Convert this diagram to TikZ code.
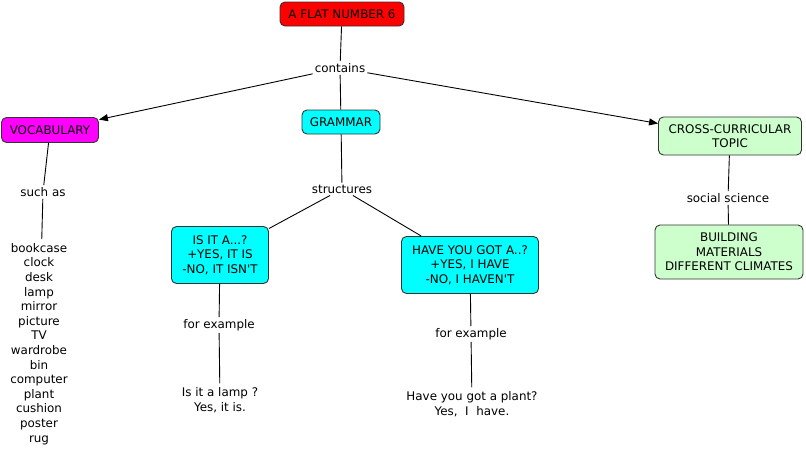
\documentclass[tikz,border=0pt]{standalone}
\usepackage{fontspec}
\setmainfont{DejaVu Sans}
\usepackage{tikz}
\usetikzlibrary{positioning, arrows.meta, shapes}
\definecolor{conceptred}{HTML}{FF0000}
\definecolor{conceptmagenta}{HTML}{FF00FF}
\definecolor{conceptcyan}{HTML}{00FFFF}
\definecolor{conceptgreen}{HTML}{CCFFCC}
\definecolor{borderdark}{HTML}{333333}
\tikzstyle{concept} = [rectangle, rounded corners=5pt, line width=0.9pt, 
text centered, draw=borderdark, inner sep=2pt, align=center]
\tikzstyle{linklabel} = [rectangle, fill=white, inner sep=2pt, 
text centered, align=center]
\tikzstyle{example} = [rectangle, inner sep=4pt, 
text centered, align=center]
\tikzstyle{link} = [line width=0.9pt, draw=black]
\tikzstyle{arrow} = [line width=0.9pt, -{Triangle[length=9pt, width=7pt]}]

\begin{document}
\begin{tikzpicture}[x=1pt, y=-1pt,
    every node/.style={font=\fontsize{11.9}{14.6}\selectfont}]
\useasboundingbox (0,0) rectangle (806,455);

\node (flat) [concept, fill=conceptred, minimum width=124pt, 
minimum height=24pt] at (342,14) {A FLAT NUMBER 6};

\node (contains) [linklabel] at (340,68) {contains};

\node (vocab) [concept, fill=conceptmagenta, minimum width=97pt, 
minimum height=25pt] at (50,130) {VOCABULARY};

\node (grammar) [concept, fill=conceptcyan, minimum width=78pt, 
minimum height=24pt] at (341,122) {GRAMMAR};

\node (cross) [concept, fill=conceptgreen, minimum width=143pt, 
minimum height=38pt] at (730,136) {CROSS-CURRICULAR \\ TOPIC};

%--------------------------------------------------
%-------vocabulary-------------------
\node (suchas) [linklabel] at (43,192) {such as};

\node (words) [example] at (39,344) 
{bookcase \\ clock \\ desk \\ lamp \\ mirror \\ picture \\ TV \\ 
wardrobe \\ bin \\ computer \\ plant \\ cushion \\ poster \\ rug};

%--------------------------------------------------
%-------grammar-------------------
\node (structures) [linklabel] at (342,189) {structures};

\node (isit) [concept, fill=conceptcyan, minimum width=97pt, 
minimum height=57pt] at (220,255) 
{IS IT A...? \\ +YES, IT IS \\ -NO, IT ISN\textquotesingle T};

\node (haveyou) [concept, fill=conceptcyan, minimum width=137pt, 
minimum height=57pt] at (470,265) 
{HAVE YOU GOT A..? \\ +YES, I HAVE \\ -NO, I HAVEN\textquotesingle T};

\node (forex1) [linklabel] at (219,325) {for example};

\node (forex2) [linklabel] at (471,334) {for example};

\node (lamp) [example] at (220,400) {Is it a lamp ? \\ Yes, it is.};

\node (plant) [example] at (472,404) 
{Have you got a plant? \\ Yes,\ \ I\ \ have.};

%--------------------------------------------------
%-------cross-curricular-------------------
\node (social) [linklabel] at (728,198) {social science};

\node (building) [concept, fill=conceptgreen, minimum width=148pt, 
minimum height=54pt] at (729,252) 
{BUILDING \\ MATERIALS \\ DIFFERENT CLIMATES};

%-------------------------------------------------------

\draw [link] (flat) -- (contains);
\draw [arrow] (contains) -- (vocab);
\draw [link] (contains) -- (grammar);
\draw [arrow] (contains) -- (cross);

\draw [link] (vocab) -- (suchas);
\draw [link] (suchas) -- (words);

\draw [link] (grammar) -- (structures);
\draw [link] (structures) -- (isit);
\draw [link] (structures) -- (haveyou);
\draw [link] (isit) -- (forex1);
\draw [link] (forex1) -- (lamp);
\draw [link] (haveyou) -- (forex2);
\draw [link] (forex2) -- (plant);

\draw [link] (cross) -- (social);
\draw [link] (social) -- (building);

\end{tikzpicture}
\end{document}
